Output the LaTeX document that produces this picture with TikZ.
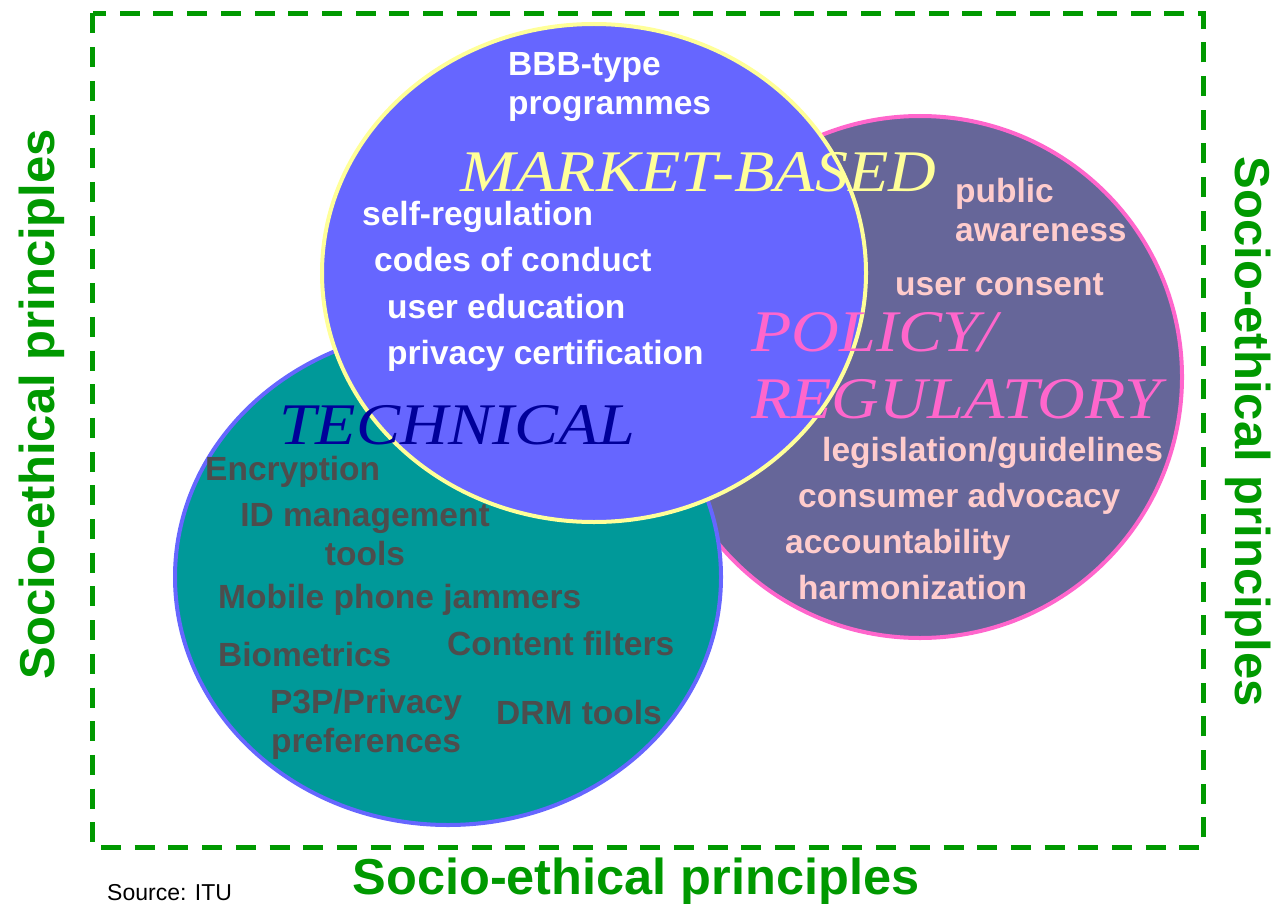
\documentclass[tikz,border=0pt]{standalone}
\usepackage{fontspec}
\setsansfont{Liberation Sans}
\newfontfamily\titlefont[FakeStretch=1.12]{Liberation Serif}
\definecolor{frame}{HTML}{009900}
\definecolor{mktfill}{HTML}{6666FF}
\definecolor{mktline}{HTML}{FFFF99}
\definecolor{techfill}{HTML}{009999}
\definecolor{techline}{HTML}{6666FF}
\definecolor{polfill}{HTML}{666699}
\definecolor{polline}{HTML}{FF66CC}
\definecolor{techtext}{HTML}{4D4D4D}
\definecolor{poltext}{HTML}{FFCCCC}
\definecolor{techtitle}{HTML}{000099}
\begin{document}
\begin{tikzpicture}[x=1pt,y=-1pt,
  item/.style={font=\sffamily\bfseries\fontsize{33.5}{39}\selectfont, inner sep=0pt, anchor=base west},
  title/.style={font=\titlefont\itshape\fontsize{59}{67}\selectfont, inner sep=0pt, anchor=base west},
  side/.style={font=\sffamily\bfseries\fontsize{49}{55}\selectfont, text=frame, inner sep=0pt, anchor=base}]
\useasboundingbox (0,0) rectangle (1276,904);
% the three fields
\filldraw[fill=polfill, draw=polline, line width=4pt] (920,377) ellipse (262 and 261);
\filldraw[fill=techfill, draw=techline, line width=4pt] (448,577) ellipse (273 and 248);
\filldraw[fill=mktfill, draw=mktline, line width=4pt] (594,273) ellipse (272 and 249);
% dashed frame round everything
\draw[frame, line width=5pt, dash pattern=on 20pt off 13.7pt] (92.5,13.5) rectangle (1203,847.5);

% market-based
\node[title, text=mktline] (mkt) at (460,191) {MARKET-BASED};
\node[item, text=white, anchor=north west, align=left] (bbb) at (508,52) {BBB-type\\programmes};
\node[item, text=white] (selfreg) at (362,225) {self-regulation};
\node[item, text=white] (codes) at (374,271) {codes of conduct};
\node[item, text=white] (usered) at (387,318) {user education};
\node[item, text=white] (cert) at (387,364) {privacy certification};

% technical
\node[title, text=techtitle] (tech) at (279,444) {TECHNICAL};
\node[item, text=techtext] (encr) at (205,480) {Encryption};
\node[item, text=techtext, anchor=north, align=center] (idm) at (365,503) {ID management\\tools};
\node[item, text=techtext] (jam) at (218,608) {Mobile phone jammers};
\node[item, text=techtext] (bio) at (218,666) {Biometrics};
\node[item, text=techtext] (filt) at (447,655) {Content filters};
\node[item, text=techtext, anchor=north, align=center] (ppp) at (366,689) {P3P/Privacy\\preferences};
\node[item, text=techtext] (drm) at (496,724) {DRM tools};

% policy / regulatory
\node[title, text=polline, anchor=north west, align=left] (pol) at (751,312) {POLICY/\\REGULATORY};
\node[item, text=poltext, anchor=north west, align=left] (aware) at (955,178) {public\\awareness};
\node[item, text=poltext] (consent) at (895,295) {user consent};
\node[item, text=poltext] (legis) at (822,461) {legislation/guidelines};
\node[item, text=poltext] (advo) at (798,507) {consumer advocacy};
\node[item, text=poltext] (acc) at (785,553) {accountability};
\node[item, text=poltext] (harm) at (798,599) {harmonization};

% labels on the frame
\node[side, rotate=90] (leftlab) at (54,404) {Socio-ethical principles};
\node[side, rotate=-90] (rightlab) at (1235,432) {Socio-ethical principles};
\node[side, font=\sffamily\bfseries\fontsize{50.5}{56}\selectfont] (bottomlab) at (636,894) {Socio-ethical principles};
\node[font=\sffamily\fontsize{23}{27}\selectfont, inner sep=0pt, anchor=base west] (src) at (107,900) {Source: ITU};
\end{tikzpicture}
\end{document}
